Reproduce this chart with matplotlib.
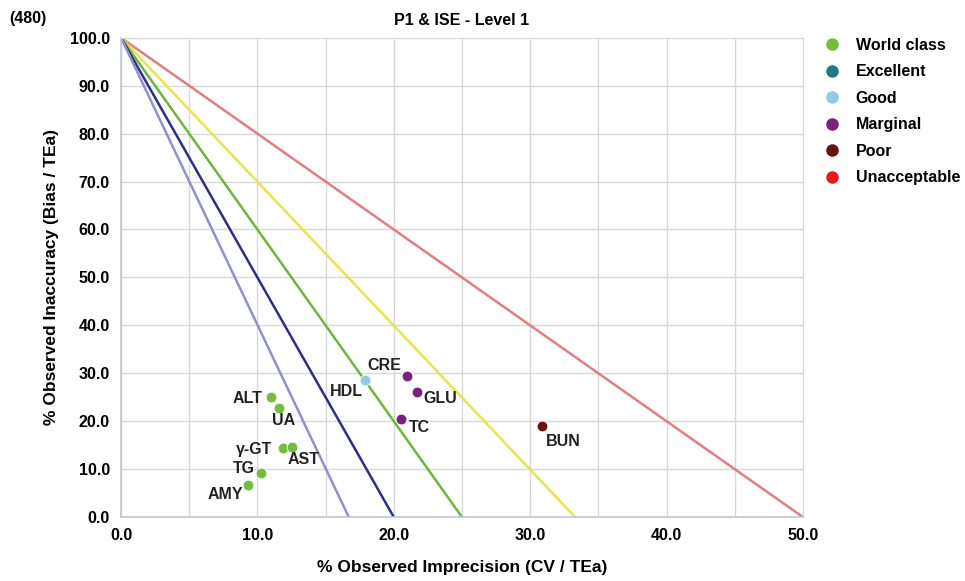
import matplotlib
matplotlib.use("Agg")
import matplotlib.pyplot as plt
from matplotlib.lines import Line2D

plt.rcParams['font.family'] = ['Liberation Sans', 'DejaVu Sans']

# sigma 判定ライン (x切片 = 100 / sigma)
line_x_ends = [50.0, 33.3, 25.0, 20.0, 16.7]
line_colors = ['#e47e7e', '#eee24a', '#6cb83c', '#2c2f86', '#8e92cc']

# 測定項目
names = ['ALT', 'UA', 'γ-GT', 'AST', 'TG', 'AMY', 'HDL', 'CRE', 'GLU', 'TC', 'BUN']
cv = [11.0, 11.6, 11.9, 12.5, 10.3, 9.3, 17.9, 21.0, 21.7, 20.5, 30.9]
bias = [25.0, 22.8, 14.4, 14.6, 9.2, 6.7, 28.6, 29.4, 26.1, 20.5, 19.0]
grade = ['World class', 'World class', 'World class', 'World class', 'World class',
         'World class', 'Good', 'Marginal', 'Marginal', 'Marginal', 'Poor']
# ラベル位置 (ピクセル, 揃え)
label_offsets = [(-9, -1, 'right'), (-7, -13, 'left'), (-11, -1, 'right'), (-4, -12, 'left'),
                 (-7, 4, 'right'), (-5, -10, 'right'), (-2, -11, 'right'), (-6, 11, 'right'),
                 (6, -7, 'left'), (8, -9, 'left'), (3, -15, 'left')]

grades = ['World class', 'Excellent', 'Good', 'Marginal', 'Poor', 'Unacceptable']
grade_colors = ['#72bf3c', '#1f7a82', '#8dcbe8', '#7a2080', '#6a1212', '#e8191b']
color_map = dict(zip(grades, grade_colors))

fig = plt.figure(figsize=(9.65, 5.81), dpi=100)
ax = fig.add_axes([0.1254, 0.110, 0.7067, 0.825])

for xe, c in zip(line_x_ends, line_colors):
    ax.plot([0, xe], [100, 0], color=c, lw=1.8, zorder=2)

for n, x, y, g, (dx, dy, ha) in zip(names, cv, bias, grade, label_offsets):
    ax.scatter(x, y, s=60, color=color_map[g], edgecolors='white', linewidths=0.6, zorder=4)
    ax.annotate(n, (x, y), xytext=(dx, dy), textcoords='offset pixels', ha=ha, va='center',
                fontsize=11.5, fontweight='bold', color='#222222', zorder=5)

ax.set_xlim(0, 50)
ax.set_ylim(0, 100)
ax.set_xticks([0, 10, 20, 30, 40, 50])
ax.set_xticks([5, 15, 25, 35, 45], minor=True)
ax.set_yticks(range(0, 101, 10))
ax.set_xticklabels([f'{v:.1f}' for v in [0, 10, 20, 30, 40, 50]])
ax.set_yticklabels([f'{v:.1f}' for v in range(0, 101, 10)])
ax.grid(True, which='both', color='#d8d8d8', lw=1.0, zorder=0)
ax.tick_params(which='both', length=0, labelsize=11.5, pad=8)
for lbl in ax.get_xticklabels() + ax.get_yticklabels():
    lbl.set_fontweight('bold')
for s in ['top', 'right']:
    ax.spines[s].set_color('#d8d8d8')
for s in ['left', 'bottom']:
    ax.spines[s].set_color('#b8c8dc')
    ax.spines[s].set_linewidth(1.2)

ax.set_xlabel('% Observed Imprecision (CV / TEa)', fontsize=12.5, fontweight='bold', labelpad=12)
ax.set_ylabel('% Observed Inaccuracy (Bias / TEa)', fontsize=12.5, fontweight='bold', labelpad=8)
ax.set_title('P1 & ISE - Level 1', fontsize=11.5, fontweight='bold', pad=9)
fig.text(0.01, 0.968, '(480)', fontsize=11.5, fontweight='bold', va='center')

handles = [Line2D([], [], marker='o', ls='', color=c, markersize=8) for c in grade_colors]
leg = fig.legend(handles, grades, loc='upper left', bbox_to_anchor=(0.839, 0.96),
                 frameon=False, handletextpad=0.98, labelspacing=0.72, fontsize=11.5,
                 handlelength=1.0)
for t in leg.get_texts():
    t.set_fontweight('bold')

plt.savefig('out.png', dpi=100)
